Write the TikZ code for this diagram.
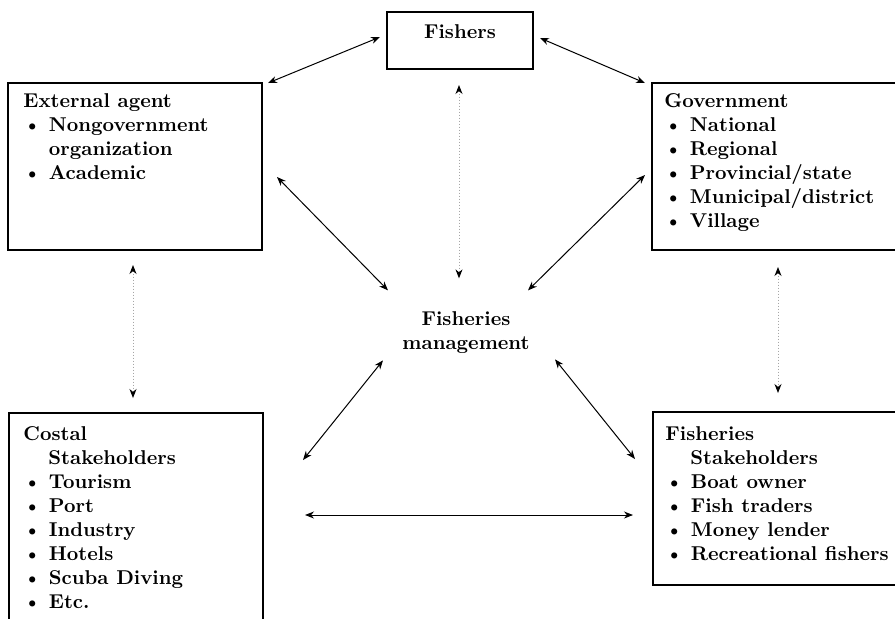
\documentclass[tikz,border=0pt]{standalone}
\usetikzlibrary{arrows.meta}

\newcommand{\itm}{\textbullet\ }
\newcommand{\ind}{\phantom{\textbullet\ }}

\begin{document}
\begin{tikzpicture}[
    x=0.5pt, y=-0.5pt,
    box/.style={draw, line width=1pt, anchor=north west, inner sep=0pt, outer sep=0pt},
    txt/.style={anchor=north west, inner sep=0pt, align=left, font=\bfseries},
    arr/.style={{Stealth[length=4.5pt,width=3.5pt]}-{Stealth[length=4.5pt,width=3.5pt]}, line width=0.5pt},
    darr/.style={{Stealth[length=4.5pt,width=3.5pt,color=black]}-{Stealth[length=4.5pt,width=3.5pt,color=black]}, line width=0.5pt, densely dotted, draw=black!35}
]
\useasboundingbox (0,0) rectangle (895,618);
\clip (0,0) rectangle (895,618);

% Fishers on top
\node[box, minimum width=73pt, minimum height=28.5pt] (fishers) at (387,12) {};
\node[font=\bfseries, anchor=base] (fishT) at (460,38) {Fishers};

% Upper boxes
\node[box, minimum width=127pt, minimum height=83.5pt] (ext) at (8,83) {};
\node[txt] (extT) at (23,93) {External agent\\\itm Nongovernment\\\ind organization\\\itm Academic};

\node[box, minimum width=124pt, minimum height=83.5pt] (gov) at (652,83) {};
\node[txt] (govT) at (664,93) {Government\\\itm National\\\itm Regional\\\itm Provincial/state\\\itm Municipal/district\\\itm Village};

% Lower boxes (cut by the page edge)
\node[box, minimum width=127pt, minimum height=113.5pt] (costal) at (9,413) {};
\node[txt] (costalT) at (23,426) {Costal\\\hspace*{1.25em}Stakeholders\\\itm Tourism\\\itm Port\\\itm Industry\\\itm Hotels\\\itm Scuba Diving\\\itm Etc.};

\node[box, minimum width=123.5pt, minimum height=86.5pt] (fstake) at (653,412) {};
\node[txt] (fstakeT) at (665,426) {Fisheries\\\hspace*{1.25em}Stakeholders\\\itm Boat owner\\\itm Fish traders\\\itm Money lender\\\itm Recreational fishers};

% Centre
\node[font=\bfseries, align=center, inner sep=0pt, anchor=north] (mgmt) at (466,311) {Fisheries\\management};

% Links round the top
\draw[arr] ([shift={(6,0)}]ext.north east) -- ([shift={(-7,25)}]fishers.north west);
\draw[arr] ([shift={(7,26)}]fishers.north east) -- ([shift={(-7,0)}]gov.north west);
\draw[darr] ([shift={(-1,16)}]fishers.south) -- ([shift={(-7,-54)}]mgmt.center);

% Links into management
\draw[arr] ([shift={(15,10.5)}]ext.east) -- ([shift={(-78,-42)}]mgmt.center);
\draw[arr] ([shift={(-7,8.5)}]gov.west) -- ([shift={(62,-42)}]mgmt.center);
\draw[arr] ([shift={(-83,28)}]mgmt.center) -- ([shift={(40,47)}]costal.north east);
\draw[arr] ([shift={(89,27)}]mgmt.center) -- ([shift={(-18,47)}]fstake.north west);

% Links between stakeholders
\draw[arr] ([shift={(42,102)}]costal.north east) -- ([shift={(-20,103)}]fstake.north west);
\draw[darr] ([shift={(-2,15)}]ext.south) -- ([shift={(-3,-15)}]costal.north);
\draw[darr] ([shift={(2,17)}]gov.south) -- ([shift={(1.5,-19)}]fstake.north);
\end{tikzpicture}
\end{document}
